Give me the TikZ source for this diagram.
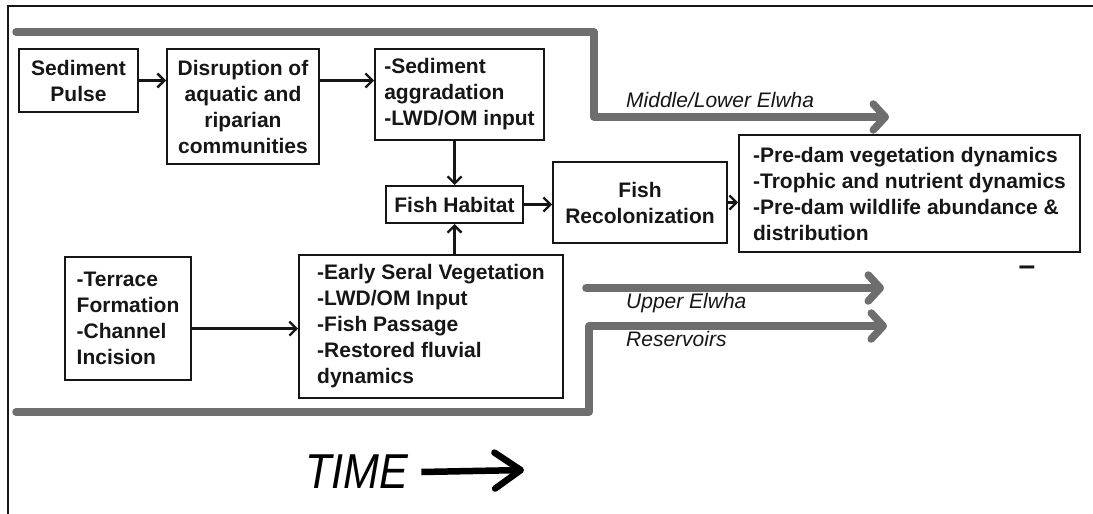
\documentclass[tikz,border=0pt]{standalone}
\usepackage{fontspec}
\setmainfont{Liberation Sans}
\usetikzlibrary{arrows.meta,positioning}

\definecolor{flowgray}{HTML}{6E6E6E}
\definecolor{inkblack}{HTML}{161616}

\newcommand{\boxfont}{\bfseries\fontsize{21}{26}\selectfont}
\newcommand{\reachfont}{\itshape\fontsize{21}{25}\selectfont}

\begin{document}
\begin{tikzpicture}[
    x=1pt, y=-1pt,
    box/.style={draw=inkblack, line width=2pt, inner sep=0pt, font=\boxfont, text=inkblack},
    leftbox/.style={box, align=left},
    midbox/.style={box, align=center},
    link/.style={draw=inkblack, line width=2.3pt, -{Straight Barb[length=7pt, width=14pt]}},
    reach/.style={draw=flowgray, line width=7.5pt, line cap=round, line join=round, -{Straight Barb[length=12pt, width=26pt, round]}},
    reachlabel/.style={anchor=west, inner sep=0pt, font=\reachfont, text=inkblack}
]
    \useasboundingbox (0,0) rectangle (1093,514);
    % Frame
    \draw[inkblack, line width=2.4pt] (8,514) -- (8,6) -- (1093,6);

    % Boxes
    \node[midbox, minimum width=119, minimum height=63] (pulse) at (78.5,80.5) {Sediment\\Pulse};
    \node[midbox, minimum width=152, minimum height=115] (disrupt) at (243,106.5) {Disruption of\\aquatic and\\riparian\\communities};
    \node[leftbox, minimum width=169, minimum height=91] (aggrad) at (459.5,94.5) {-Sediment\\aggradation\\-LWD/OM input};
    \node[midbox, minimum width=137, minimum height=37] (habitat) at (454.5,204.5) {Fish Habitat};
    \node[midbox, minimum width=174, minimum height=81] (recolon) at (640,202.5) {Fish\\Recolonization};
    \node[leftbox, minimum width=341, minimum height=117] (predam) at (909.5,193.5) {-Pre-dam vegetation dynamics\\-Trophic and nutrient dynamics\\-Pre-dam wildlife abundance \&\\distribution};
    \node[leftbox, minimum width=126, minimum height=123] (terrace) at (128,318.5) {-Terrace\\Formation\\-Channel\\Incision};
    \node[leftbox, minimum width=264, minimum height=143] (early) at (431,326.5) {-Early Seral Vegetation\\-LWD/OM Input\\-Fish Passage\\-Restored fluvial\\dynamics};

    % Links
    \draw[link] (pulse.east) -- (pulse.east -| disrupt.west);
    \draw[link] (disrupt.east |- pulse.east) -- (aggrad.west |- pulse.east);
    \draw[link] (aggrad.south -| habitat.north) -- (habitat.north);
    \draw[link] (early.north -| habitat.south) -- (habitat.south);
    \draw[link] ([yshift=-10pt]terrace.east) -- ([yshift=-10pt]terrace.east -| early.west);
    \draw[link] (habitat.east) -- (habitat.east -| recolon.west);
    \draw[link] (recolon.east) -- (recolon.east -| predam.west);

    % River reaches
    \coordinate (midstart) at (16,32);
    \coordinate (midend) at (889,117);
    \coordinate (upstart) at (586,288);
    \coordinate (upend) at (884,288);
    \coordinate (resstart) at (16,412);
    \coordinate (resend) at (887,326);
    \draw[reach] (midstart) -| (594,117) -- (midend);
    \draw[reach] (upstart) -- (upend);
    \draw[reach] (resstart) -| (589,326) -- (resend);

    \node[reachlabel] (midlabel) at (626,100) {Middle/Lower Elwha};
    \node[reachlabel] (uplabel) at (626,303) {Upper Elwha};
    \node[reachlabel] (reslabel) at (626,339) {Reservoirs};

    \node[font=\bfseries\fontsize{30}{30}\selectfont, text=inkblack, inner sep=0pt] (minus) at (1027,271) {–};

    % Time axis
    \node[anchor=west, inner sep=0pt, font=\itshape\fontsize{49}{49}\selectfont] (time) at (305,472) {\scalebox{0.88}[1]{TIME}};
    \coordinate (timeend) at (524,470);
    \draw[line width=6.5pt, -{Straight Barb[length=26pt, width=36pt, round]}] ([xshift=13pt]time.east) -- (timeend);
\end{tikzpicture}
\end{document}
